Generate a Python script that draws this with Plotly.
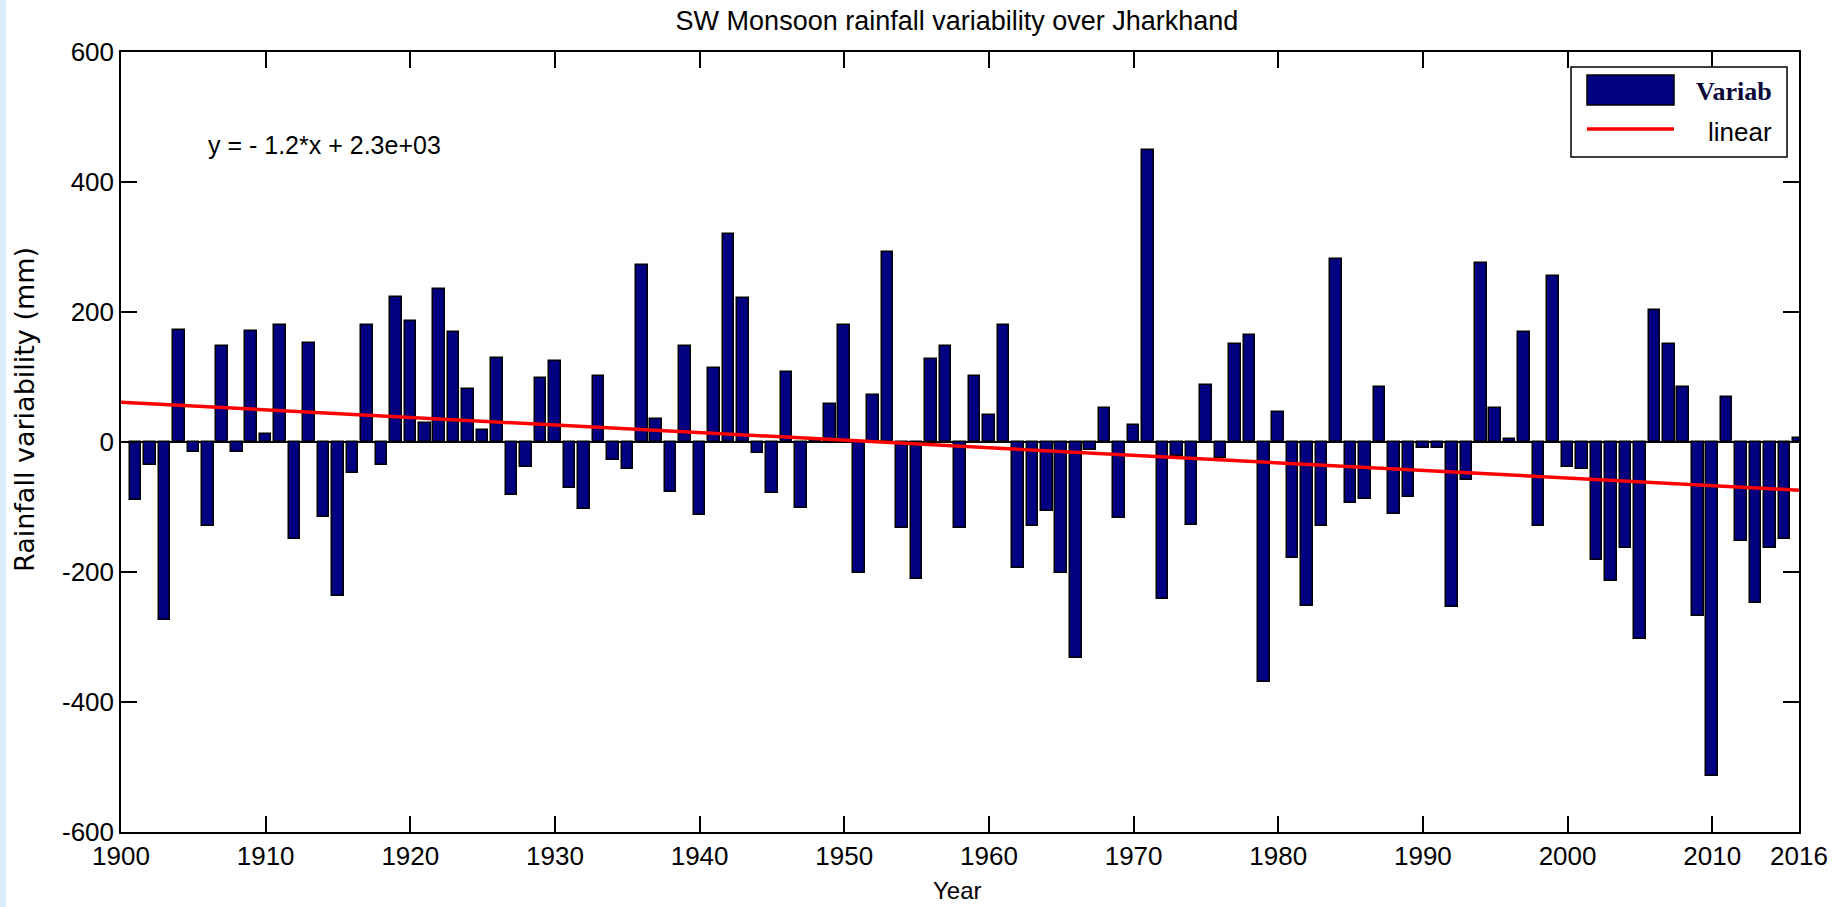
import numpy as np
import plotly.graph_objects as go

# ---------------- data ----------------
years = list(range(1901, 2017))
variab = [
    -89, -35, -274, 173, -15, -129, 148, -15, 171, 13,          # 1901-1910
    180, -149, 153, -116, -237, -47, 180, -35, 223, 186,        # 1911-1920
    30, 236, 170, 81, 18, 130, -81, -38, 98, 125,               # 1921-1930
    -71, -103, 102, -28, -41, 272, 36, -77, 148, -113,          # 1931-1940
    114, 320, 222, -17, -78, 107, -101, 3, 58, 180,             # 1941-1950
    -202, 72, 292, -133, -211, 127, 148, -133, 102, 42,         # 1951-1960
    180, -194, -129, -106, -202, -333, -13, 52, -117, 26,       # 1961-1970
    449, -241, -21, -127, 88, -25, 151, 164, -369, 46,          # 1971-1980
    -179, -252, -129, 282, -94, -87, 85, -110, -84, -9,         # 1981-1990
    -9, -254, -58, 275, 52, 4, 170, -129, 255, -38,             # 1991-2000
    -41, -182, -214, -163, -303, 203, 151, 85, -268, -514,      # 2001-2010
    70, -153, -248, -163, -149, 6                               # 2011-2016
]
x_tick_vals = [1900, 1910, 1920, 1930, 1940, 1950, 1960, 1970, 1980, 1990, 2000, 2010, 2016]
y_tick_vals = [-600, -400, -200, 0, 200, 400, 600]
y_tick_text = ["-600", "-400", "-200", "0", "200", "400", "600"]
title_text = "SW Monsoon rainfall variability over Jharkhand"
eq_text = "y = - 1.2*x + 2.3e+03"

# linear fit from data
coef = np.polyfit(years, variab, 1)
fit_x = [1900, 2016]
fit_y = list(np.polyval(coef, fit_x))

FONT = "Liberation Sans, Arial, sans-serif"

# figure geometry (px)
W, H = 1843, 907
L, R, T, B = 121, 1799, 52, 832
pw, ph = R - L, B - T

def px(xp):
    return (xp - L) / pw

def py(yp):
    return (B - yp) / ph

fig = go.Figure()
fig.add_trace(go.Bar(
    x=years, y=variab, width=0.8, name="Variab",
    marker=dict(color="#000080", line=dict(color="black", width=1.5)),
    showlegend=False,
))
fig.add_trace(go.Scatter(
    x=fit_x, y=fit_y, mode="lines", name="linear",
    line=dict(color="#ff0000", width=3.5), showlegend=False,
))

axis_common = dict(
    showline=True, linecolor="black", linewidth=1.5, mirror="ticks",
    ticks="inside", ticklen=16, tickwidth=1.5, tickcolor="black",
    showgrid=False, automargin=False,
    tickfont=dict(family=FONT, size=26, color="black"),
)
fig.update_xaxes(range=[1900, 2016], tickvals=x_tick_vals, zeroline=False, **axis_common)
fig.update_yaxes(range=[-600, 600], tickvals=y_tick_vals, ticktext=y_tick_text, zeroline=True,
                 zerolinecolor="black", zerolinewidth=1.5, **axis_common)

shapes = [
    # light blue strip at the left edge
    dict(type="rect", xref="paper", yref="paper", x0=px(0), x1=px(6), y0=py(H), y1=py(0),
         fillcolor="#dcebf8", line=dict(width=0), layer="below"),
    # legend box
    dict(type="rect", xref="paper", yref="paper", x0=px(1571), x1=px(1787), y0=py(157), y1=py(67),
         fillcolor="white", line=dict(color="black", width=1.5)),
    # legend bar patch
    dict(type="rect", xref="paper", yref="paper", x0=px(1587), x1=px(1674), y0=py(105), y1=py(75),
         fillcolor="#000080", line=dict(color="black", width=1.5)),
    # legend line
    dict(type="line", xref="paper", yref="paper", x0=px(1587), x1=px(1674), y0=py(129), y1=py(129),
         line=dict(color="#ff0000", width=3.5)),
]

annotations = [
    dict(text=eq_text, x=1905.9, y=457, xref="x", yref="y", xanchor="left", yanchor="middle",
         showarrow=False, font=dict(family=FONT, size=25, color="black")),
    dict(text="<b>Variab</b>", x=px(1774), y=py(91), xref="paper", yref="paper",
         xanchor="right", yanchor="middle", showarrow=False,
         font=dict(family="Liberation Serif, Times New Roman, serif", size=26, color="#0a0a3a")),
    dict(text="linear", x=px(1774), y=py(132), xref="paper", yref="paper",
         xanchor="right", yanchor="middle", showarrow=False,
         font=dict(family=FONT, size=26, color="black")),
    dict(text="Year", x=px(957), y=py(890), xref="paper", yref="paper",
         xanchor="center", yanchor="middle", showarrow=False,
         font=dict(family=FONT, size=24, color="black")),
    dict(text="Rainfall variability (mm)", x=px(24), y=py(410), xref="paper", yref="paper",
         xanchor="center", yanchor="middle", textangle=-90, showarrow=False,
         font=dict(family="DejaVu Sans, sans-serif", size=27, color="black")),
]

fig.update_layout(
    width=W, height=H,
    margin=dict(l=L, r=W - R, t=T, b=H - B, pad=0, autoexpand=False),
    paper_bgcolor="white", plot_bgcolor="white",
    title=dict(text=title_text, x=957 / W, xanchor="center",
               y=1 - 21 / H, yanchor="middle",
               font=dict(family=FONT, size=27, color="black")),
    bargap=0, showlegend=False,
    shapes=shapes, annotations=annotations,
)

fig.write_html(
    "out.html",
    config={"displayModeBar": False},
    post_script="document.body.style.margin='0';document.body.style.overflow='hidden';",
)
